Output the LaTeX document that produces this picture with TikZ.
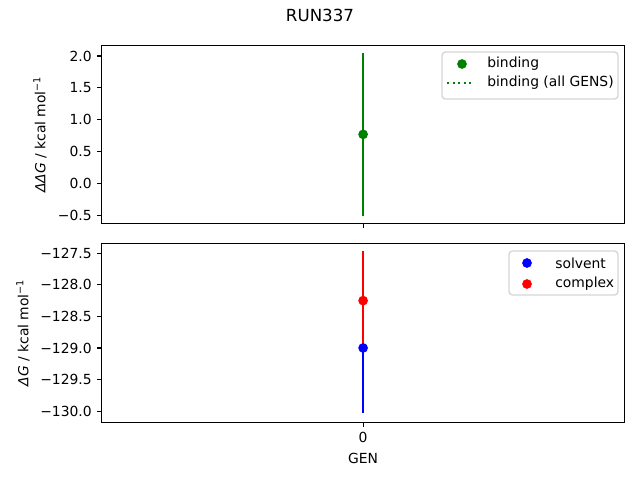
\documentclass[tikz,border=0pt]{standalone}
\usepackage{fontspec}
\setmainfont{DejaVu Sans}
\usepackage{tikz}
\usetikzlibrary{positioning}
\definecolor{mplgreen}{HTML}{008000}
\definecolor{mplblue}{HTML}{0000FF}
\definecolor{mplred}{HTML}{FF0000}
\definecolor{legedge}{HTML}{D6D6D6}
\tikzset{
  spine/.style={line width=0.8pt, line join=miter},
  tickmark/.style={line width=0.8pt},
  ticklab/.style={font=\fontsize{10}{12}\selectfont, inner sep=0pt},
  errbar/.style={line width=1.5pt},
  dot/.style={circle, inner sep=0pt, minimum size=7pt},
  legbox/.style={draw=legedge, fill=white, line width=1pt, rounded corners=2.5pt},
}

\begin{document}
\begin{tikzpicture}[x=0.72pt, y=-0.72pt]
  \useasboundingbox (0,0) rectangle (640,480);

  \newcommand\AL{101.7};
  \newcommand\AR{624.5};
  \newcommand\XZ{363.1};
  \newcommand\ZT{183.4}; %% y of 0.0, top panel
  \newcommand\UT{63.7};
  \newcommand\ZB{253.3}; %% y of -127.5, bottom panel
  \newcommand\UB{63.1};
  \newcommand\TL{4.86};

  %% top panel data
  \coordinate (bindhi) at (\XZ, {\ZT-2.05*\UT});
  \coordinate (bindlo) at (\XZ, {\ZT+0.51*\UT});
  \draw[errbar, mplgreen] (bindhi) -- (bindlo);
  \node[dot, fill=mplgreen] (bindpt) at (\XZ, {\ZT-0.77*\UT}) {};

  %% bottom panel data
  \coordinate (solvhi) at (\XZ, {\ZB+0.47*\UB});
  \coordinate (solvlo) at (\XZ, {\ZB+2.53*\UB});
  \coordinate (comphi) at (\XZ, {\ZB-0.03*\UB});
  \coordinate (complo) at (\XZ, {\ZB+1.53*\UB});
  \draw[errbar, mplblue] (solvhi) -- (solvlo);
  \draw[errbar, mplred] (comphi) -- (complo);
  \node[dot, fill=mplblue] (solvpt) at (\XZ, {\ZB+1.5*\UB}) {};
  \node[dot, fill=mplred] (comppt) at (\XZ, {\ZB+0.75*\UB}) {};

  %% axes frames
  \draw[spine] (\AL,45.7) rectangle (\AR,223.3);
  \draw[spine] (\AL,243.3) rectangle (\AR,422.3);

  %% y ticks
  \foreach \v/\lab in {2.0/2.0, 1.5/1.5, 1.0/1.0, 0.5/0.5, 0.0/0.0, -0.5/−0.5}{
    \draw[tickmark] (\AL, {\ZT-(\v)*\UT}) -- (\AL-\TL, {\ZT-(\v)*\UT});
    \node[ticklab, anchor=east] at (\AL-2*\TL, {\ZT-(\v)*\UT}) {\lab};
  }
  \foreach \k/\lab in {0/−127.5, 1/−128.0, 2/−128.5, 3/−129.0, 4/−129.5, 5/−130.0}{
    \draw[tickmark] (\AL, {\ZB+\k*0.5*\UB}) -- (\AL-\TL, {\ZB+\k*0.5*\UB});
    \node[ticklab, anchor=east] at (\AL-2*\TL, {\ZB+\k*0.5*\UB}) {\lab};
  }

  %% x ticks
  \draw[tickmark] (\XZ,223.3) -- (\XZ,223.3+\TL);
  \draw[tickmark] (\XZ,422.3) -- (\XZ,422.3+\TL);
  \node[ticklab, anchor=north] (xzero) at (\XZ,432.3) {0};
  \node[ticklab, anchor=north] (xlab) at (\XZ,452.7) {GEN};

  %% axis labels and title
  \node[ticklab, rotate=90, anchor=south] (ylabtop) at (47,134.5)
    {{\itshape ΔΔG} / kcal mol\textsuperscript{−1}};
  \node[ticklab, rotate=90, anchor=south] (ylabbot) at (30,332.8)
    {{\itshape ΔG} / kcal mol\textsuperscript{−1}};
  \node[inner sep=0pt, font=\fontsize{12}{14}\selectfont] (title) at (320,15.7) {RUN337};

  %% legends
  \draw[legbox] (442,52) rectangle (618,99);
  \node[dot, fill=mplgreen] (legbind) at (462,64) {};
  \node[ticklab, anchor=west] at (487,64) {binding};
  \coordinate (legall1) at (447,83);
  \coordinate (legall2) at (472,83);
  \draw[mplgreen, line width=1.5pt, dash pattern=on 1.5pt off 2.5pt] (legall1) -- (legall2);
  \node[ticklab, anchor=west] at (487,83) {binding (all GENS)};

  \draw[legbox] (509,251) rectangle (618,295);
  \node[dot, fill=mplblue] (legsolv) at (527,263) {};
  \node[ticklab, anchor=west] at (555,263) {solvent};
  \node[dot, fill=mplred] (legcomp) at (527,284) {};
  \node[ticklab, anchor=west] at (555,284) {complex};

\end{tikzpicture}
\end{document}
